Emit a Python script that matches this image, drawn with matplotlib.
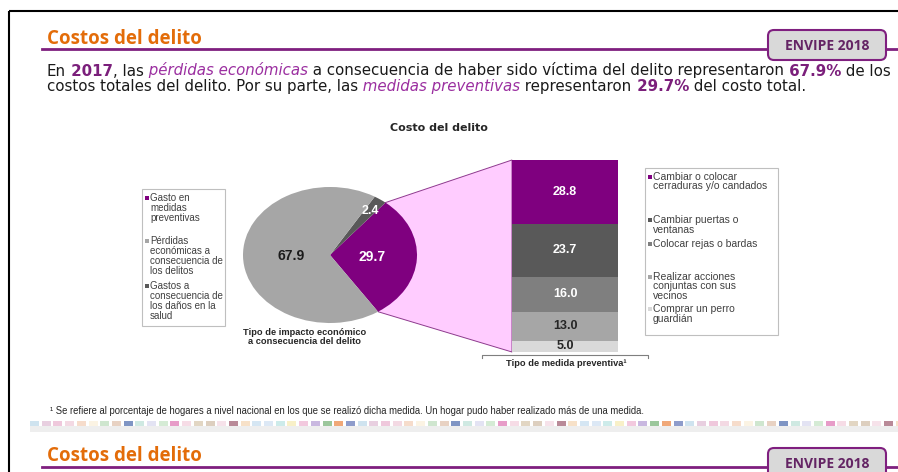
import matplotlib
matplotlib.use('Agg')
import matplotlib.pyplot as plt
import numpy as np
from matplotlib.patches import Rectangle, Polygon, FancyBboxPatch

plt.rcParams['font.family'] = ['Liberation Sans', 'DejaVu Sans']

# --- data ---
impact_labels = ['Gasto en\nmedidas\npreventivas',
                 'Pérdidas\neconómicas a\nconsecuencia de\nlos delitos',
                 'Gastos a\nconsecuencia de\nlos daños en la\nsalud']
impact_values = [29.7, 67.9, 2.4]
impact_colors = ['#7F007F', '#A6A6A6', '#595959']
pie_order = [0, 2, 1]            # counter-clockwise, starting with the purple wedge
pie_label_radius = [0.48, 0.45, 0.8]
pie_label_colors = ['white', '#1A1A1A', 'white']

measure_labels = ['Cambiar o colocar\ncerraduras y/o candados',
                  'Cambiar puertas o\nventanas',
                  'Colocar rejas o bardas',
                  'Realizar acciones\nconjuntas con sus\nvecinos',
                  'Comprar un perro\nguardián']
measure_values = [28.8, 23.7, 16.0, 13.0, 5.0]
measure_colors = ['#7F007F', '#595959', '#7F7F7F', '#A6A6A6', '#D9D9D9']
measure_text_colors = ['white', 'white', 'white', '#262626', '#262626']

strip_colors = ['#CFE3EF', '#E8CFE0', '#EFC8DC', '#F3D9E3', '#F6DCCB', '#FBF3E3',
                '#CFE6CF', '#E8D2C3', '#7F95C4', '#CFE9E2', '#E3E3F3', '#D5EBD5',
                '#E79CC8', '#F6DCE6', '#E2D6C3', '#DDCFBF', '#F6E2EA', '#B98A98',
                '#F7E1C8', '#D5E6F3', '#DCE8F5', '#CDEBEA', '#F8F0C8', '#F2C9DE',
                '#C9B8E0', '#9CC79C', '#F0A878', '#8E9CCB']

purple_line = '#7F1F7F'
orange = '#E36C09'
hl_purple = '#7B1F7B'
it_purple = '#9B2FA0'

W, H = 898, 472
fig = plt.figure(figsize=(W / 100, H / 100), dpi=100)
fig.patch.set_facecolor('white')

# full-figure canvas in pixel units (y down)
cv = fig.add_axes([0, 0, 1, 1], zorder=0)
cv.set_xlim(0, W)
cv.set_ylim(H, 0)
cv.axis('off')

# slide frame
cv.plot([9, 9], [11, H], color='black', lw=1.5, solid_capstyle='butt')
cv.plot([9, W], [11, 11], color='black', lw=1.5, solid_capstyle='butt')


def header(y_text, y_line, box_top):
    cv.text(47, y_text, 'Costos del delito', color=orange, fontsize=13.5,
            fontweight='bold', family=['Open Sans', 'DejaVu Sans'], va='center')
    cv.plot([42, W], [y_line, y_line], color=purple_line, lw=2)
    cv.add_patch(FancyBboxPatch((768, box_top), 118, 30,
                                boxstyle='round,pad=0,rounding_size=6',
                                fc='#D9D9D9', ec=purple_line, lw=1.5, zorder=3))
    cv.text(827, box_top + 15.5, 'ENVIPE 2018', color='#642464', fontsize=10,
            fontweight='bold', family=['Open Sans', 'DejaVu Sans'],
            ha='center', va='center', zorder=4)


header(38.5, 49, 30)
header(456, 467, 448)

# intro text with mixed styles
renderer = fig.canvas.get_renderer()


def rich_line(x, y, parts, fs=10.8):
    for s, col, wt, st in parts:
        t = cv.text(x, y, s, fontsize=fs, color=col, fontweight=wt,
                    fontstyle=st, va='baseline', family=['DejaVu Sans'])
        x += t.get_window_extent(renderer).width


body = '#1A1A1A'
rich_line(47, 75.5, [
    ('En', body, 'normal', 'normal'),
    (' 2017', hl_purple, 'bold', 'normal'),
    (', las', body, 'normal', 'normal'),
    (' pérdidas económicas', it_purple, 'normal', 'italic'),
    (' a consecuencia de haber sido víctima del delito representaron', body, 'normal', 'normal'),
    (' 67.9%', hl_purple, 'bold', 'normal'),
    (' de los', body, 'normal', 'normal'),
])
rich_line(47, 91, [
    ('costos totales del delito. Por su parte, las', body, 'normal', 'normal'),
    (' medidas preventivas', it_purple, 'normal', 'italic'),
    (' representaron', body, 'normal', 'normal'),
    (' 29.7%', hl_purple, 'bold', 'normal'),
    (' del costo total.', body, 'normal', 'normal'),
])

cv.text(439, 128, 'Costo del delito', fontsize=8, fontweight='bold',
        family=['DejaVu Sans'], color='#262626', ha='center', va='center')

# --- pie ---
pie_ax = fig.add_axes([243 / W, 1 - 323 / H, 174 / W, 136 / H], zorder=2)
wedges, _ = pie_ax.pie([impact_values[i] for i in pie_order],
                       colors=[impact_colors[i] for i in pie_order],
                       startangle=-56.5, counterclock=True)
pie_ax.set_aspect('auto')
pie_ax.set_xlim(-1, 1)
pie_ax.set_ylim(-1, 1)
pie_ax.axis('off')
for w, i in zip(wedges, pie_order):
    a = np.deg2rad((w.theta1 + w.theta2) / 2)
    r = pie_label_radius[i]
    pie_ax.text(r * np.cos(a), r * np.sin(a), f'{impact_values[i]:.1f}',
                color=pie_label_colors[i], fontsize=10 if i != 2 else 9,
                fontweight='bold', ha='center', va='center')

cv.text(305, 337, 'Tipo de impacto económico\na consecuencia del delito',
        fontsize=6.7, fontweight='bold', color='#262626', ha='center',
        va='center', linespacing=1.1)

# --- stacked bar ---
bar_ax = fig.add_axes([512 / W, 1 - 352 / H, 106 / W, 192 / H], zorder=2)
total = sum(measure_values)
bottom = 0
for v, c, tc in reversed(list(zip(measure_values, measure_colors, measure_text_colors))):
    bar_ax.bar(0, v, width=1, bottom=bottom, color=c, edgecolor='none')
    bar_ax.text(0, bottom + v / 2, f'{v:.1f}', color=tc, fontsize=9,
                fontweight='bold', ha='center', va='center')
    bottom += v
bar_ax.set_xlim(-0.5, 0.5)
bar_ax.set_ylim(0, total)
bar_ax.axis('off')

# connector between purple wedge and bar
to_cv = cv.transData.inverted()


def rim(deg):
    return to_cv.transform(pie_ax.transData.transform(
        (np.cos(np.deg2rad(deg)), np.sin(np.deg2rad(deg)))))


pw = wedges[0]
top_left = to_cv.transform(bar_ax.transData.transform((-0.5, total)))
bot_left = to_cv.transform(bar_ax.transData.transform((-0.5, 0)))
cv.add_patch(Polygon([rim(pw.theta2), top_left, bot_left, rim(pw.theta1)],
                     closed=True, fc='#FFCCFF', ec='#8E3A8E', lw=0.7, zorder=1))

# bracket + caption under the bar
cv.plot([482, 482, 648, 648], [358, 354.5, 354.5, 358], color='#7F7F7F', lw=0.8)
cv.text(566, 363, 'Tipo de medida preventiva¹', fontsize=6.7, fontweight='bold',
        color='#262626', ha='center', va='center')


# --- legends ---
def legend_box(x0, y0, x1, y1, labels, colors, first_line_y, fs, ls):
    cv.add_patch(Rectangle((x0, y0), x1 - x0, y1 - y0, fill=False,
                           ec='#BFBFBF', lw=0.8))
    for lab, col, yy in zip(labels, colors, first_line_y):
        cv.add_patch(Rectangle((x0 + 2.5, yy - 2), 4, 4, fc=col, ec='none'))
        cv.text(x0 + 8, yy - 5, lab, fontsize=fs, color='#404040',
                va='top', ha='left', linespacing=ls)


legend_box(142, 189, 225, 326, impact_labels, impact_colors,
           [198, 240.7, 286], 7, 1.02)
legend_box(645, 168, 778, 335, measure_labels, measure_colors,
           [176.7, 220, 244, 276.7, 309], 7.5, 0.97)

# footnote
cv.text(50, 411, '¹ Se refiere al porcentaje de hogares a nivel nacional en los que se '
        'realizó dicha medida. Un hogar pudo haber realizado más de una medida.',
        fontsize=6.85, color='#262626', va='center')

# decorative colour strip
cv.add_patch(Rectangle((30, 426), W - 30, 6, fc='#EEEEEE', ec='none'))
for k, x in enumerate(np.arange(30, W, 11.7)):
    cv.add_patch(Rectangle((x, 420.5), 9, 5, fc=strip_colors[k % len(strip_colors)],
                           ec='none'))

fig.savefig('out.png', dpi=100)
